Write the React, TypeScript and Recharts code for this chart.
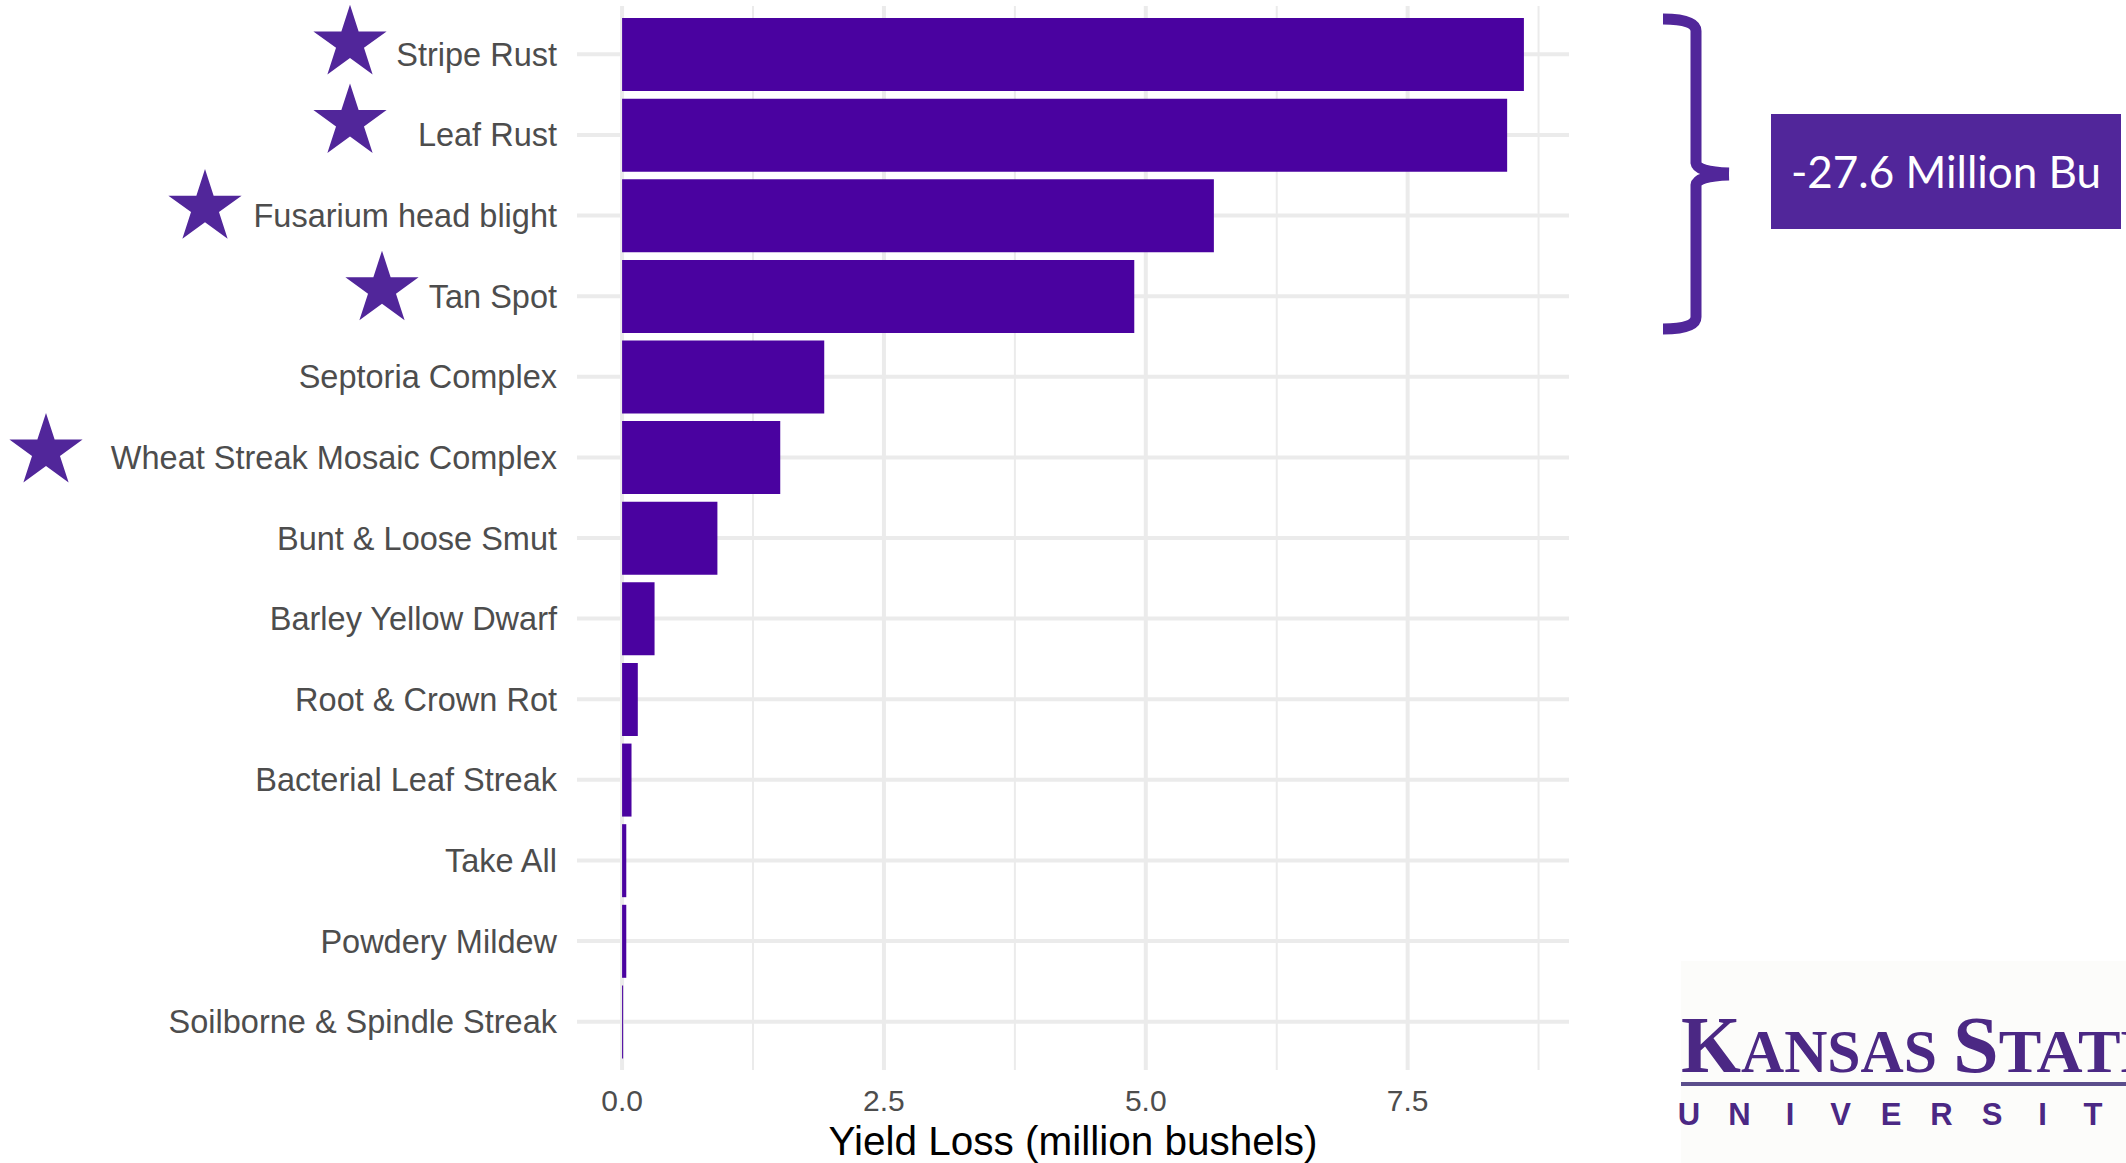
import React from 'react';
import { BarChart, Bar, XAxis, YAxis, CartesianGrid } from 'recharts';

// ---------- data ----------
const categories = [
  'Stripe Rust',
  'Leaf Rust',
  'Fusarium head blight',
  'Tan Spot',
  'Septoria Complex',
  'Wheat Streak Mosaic Complex',
  'Bunt & Loose Smut',
  'Barley Yellow Dwarf',
  'Root & Crown Rot',
  'Bacterial Leaf Streak',
  'Take All',
  'Powdery Mildew',
  'Soilborne & Spindle Streak',
];
const yieldLoss = [8.61, 8.45, 5.65, 4.89, 1.93, 1.51, 0.91, 0.31, 0.15, 0.09, 0.04, 0.04, 0.01];
const starred = ['Stripe Rust', 'Leaf Rust', 'Fusarium head blight', 'Tan Spot', 'Wheat Streak Mosaic Complex'];
const majorTicks = [0, 2.5, 5, 7.5];
const minorTicks = [1.25, 3.75, 6.25, 8.75];
const tickLabels = ['0.0', '2.5', '5.0', '7.5'];
const bracketCount = 4; // top four diseases summed in the callout
const axisTitle = 'Yield Loss (million bushels)';

// ---------- styling ----------
const BAR = '#4A02A0';
const ACCENT = '#51269A';
const GRID = '#EBEBEB';
const LABEL = '#4D4D4D';
const SANS = '"Liberation Sans", Arial, Helvetica, sans-serif';

// star placement relative to each label's tick anchor (hand-placed annotations)
const STAR_OFFSET: Record<string, [number, number]> = {
  'Stripe Rust': [-227, -11],
  'Leaf Rust': [-227, -13],
  'Fusarium head blight': [-372, -8],
  'Tan Spot': [-195, -7],
  'Wheat Streak Mosaic Complex': [-531, -6],
};

const data = categories.map((name, i) => ({ name, value: yieldLoss[i] }));
const maxV = Math.max(...yieldLoss);
const pad = maxV * 0.05;
const domain: [number, number] = [-pad, maxV + pad];
const total = yieldLoss.slice(0, bracketCount).reduce((a, b) => a + b, 0);
const calloutText = `-${total.toFixed(1)} Million Bu`;

const starPoints = (cx: number, cy: number, R: number, r: number) =>
  Array.from({ length: 10 }, (_, i) => {
    const a = -Math.PI / 2 + (i * Math.PI) / 5;
    const rad = i % 2 === 0 ? R : r;
    return `${(cx + rad * Math.cos(a)).toFixed(2)},${(cy + rad * Math.sin(a)).toFixed(2)}`;
  }).join(' ');

const YTick = (props: any) => {
  const { x, y, payload } = props;
  const name = payload.value as string;
  const off = starred.includes(name) ? STAR_OFFSET[name] : null;
  return (
    <g>
      {off && <polygon points={starPoints(x + off[0], y + off[1], 38.5, 14.7)} fill={ACCENT} />}
      <text x={x - 20} y={y} dy={11.5} textAnchor="end" fontFamily={SANS} fontSize={32.5} fill={LABEL}>
        {name}
      </text>
    </g>
  );
};

const XTick = (props: any) => {
  const { x, y, payload } = props;
  const idx = majorTicks.indexOf(payload.value);
  return (
    <text x={x} y={y + 41} textAnchor="middle" fontFamily={SANS} fontSize={30} fill={LABEL}>
      {idx >= 0 ? tickLabels[idx] : payload.value}
    </text>
  );
};

const AxisTitle = (props: any) => {
  const vb = props.viewBox || {};
  return (
    <text x={vb.x + vb.width / 2} y={vb.y + 85} textAnchor="middle" fontFamily={SANS} fontSize={40.5} fill="#000">
      {axisTitle}
    </text>
  );
};

const universityLetters = 'UNIVERSITY'.split('');

export default function App() {
  return (
    <div style={{ position: 'absolute', left: 0, top: 0, width: 2126, height: 1163, background: '#fff' }}>
      <BarChart
        width={2126}
        height={1163}
        data={data}
        layout="vertical"
        margin={{ top: 6, right: 557, bottom: 0, left: 0 }}
        barCategoryGap="5%"
      >
        <CartesianGrid xAxisId="minor" horizontal={false} stroke={GRID} strokeWidth={2} syncWithTicks />
        <CartesianGrid stroke={GRID} strokeWidth={4} syncWithTicks />
        <XAxis
          type="number"
          dataKey="value"
          domain={domain}
          allowDataOverflow
          ticks={majorTicks}
          interval={0}
          height={93}
          tickSize={0}
          tickMargin={0}
          axisLine={false}
          tickLine={false}
          tick={<XTick />}
          label={<AxisTitle />}
        />
        <XAxis xAxisId="minor" type="number" domain={domain} allowDataOverflow ticks={minorTicks} hide />
        <YAxis
          type="category"
          dataKey="name"
          width={577}
          tickSize={0}
          tickMargin={0}
          axisLine={false}
          tickLine={false}
          interval={0}
          padding={{ top: 8, bottom: 8 }}
          tick={<YTick />}
        />
        <Bar dataKey="value" fill={BAR} isAnimationActive={false} />
      </BarChart>
      <svg
        width={2126}
        height={1163}
        style={{ position: 'absolute', left: 0, top: 0, pointerEvents: 'none' }}
      >
        {/* brace */}
        <path
          d="M 1663 19 Q 1696 19 1696 31 L 1696 163 Q 1697 172 1729 173 M 1729 175 Q 1697 176 1696 185 L 1696 317 Q 1696 329 1663 329"
          fill="none"
          stroke={ACCENT}
          strokeWidth={11}
          strokeLinejoin="round"
        />
        {/* callout box */}
        <rect x={1771} y={114} width={350} height={115} fill={ACCENT} />
        <text x={1946} y={188} textAnchor="middle" fontFamily="Lato, 'Open Sans', sans-serif" fontSize={44} fill="#fff">
          {calloutText}
        </text>
        {/* logo */}
        <rect x={1681} y={961} width={445} height={202} fill="#FCFCFA" />
        <text x={1681} y={1072} fontFamily="'Liberation Serif', 'Times New Roman', serif" fontWeight="bold" fill="#4B2884" textLength={256} lengthAdjust="spacingAndGlyphs">
          <tspan fontSize={80}>K</tspan>
          <tspan fontSize={62}>ANSAS</tspan>
        </text>
        <text x={1953} y={1072} fontFamily="'Liberation Serif', 'Times New Roman', serif" fontWeight="bold" fill="#4B2884" textLength={210} lengthAdjust="spacingAndGlyphs">
          <tspan fontSize={80}>S</tspan>
          <tspan fontSize={62}>TATE</tspan>
        </text>
        <rect x={1681} y={1082} width={445} height={4} fill="#5B4E8C" />
        {universityLetters.map((ch, i) => (
          <text key={i} x={1689 + i * 50.5} y={1125} textAnchor="middle" fontFamily={SANS} fontWeight="bold" fontSize={31} fill="#4B2884">
            {ch}
          </text>
        ))}
      </svg>
    </div>
  );
}
